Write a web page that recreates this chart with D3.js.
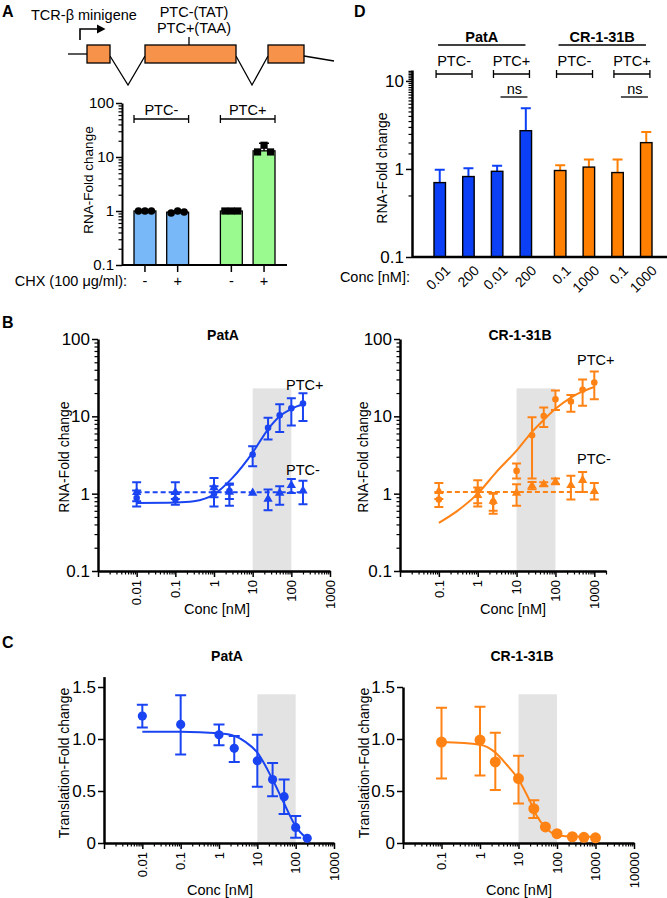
<!DOCTYPE html>
<html>
<head>
<meta charset="utf-8">
<script src="https://cdn.jsdelivr.net/npm/d3@7"></script>
<style>
  body { margin: 0; background: #fff; }
  svg { font-family: "Liberation Sans", Arial, Helvetica, sans-serif; }
</style>
</head>
<body>
<svg id="fig" width="667" height="898"></svg>
<script>
// ---------- Panel A: minigene bar chart ----------
const aGroup = ['PTC-', 'PTC-', 'PTC+', 'PTC+'];
const aChx = ['-', '+', '-', '+'];
const aMean = [1.0, 0.95, 1.0, 13.0];
const aReps = [[1.0, 1.0, 1.0], [0.92, 1.0, 0.96], [1.0, 1.0, 1.0], [12.4, 16.5, 12.4]];
const aErrTop = [null, null, null, 18];
const aYTicks = [0.1, 1, 10, 100];

// ---------- Panel D: single-dose bars ----------
const dCompounds = ['PatA', 'CR-1-31B'];
const dPtc = ['PTC-', 'PTC-', 'PTC+', 'PTC+'];
const dConcPatA = ['0.01', '200', '0.01', '200'];
const dConcCR = ['0.1', '1000', '0.1', '1000'];
const dMeanPatA = [0.70, 0.82, 0.94, 2.72];
const dErrPatA = [0.98, 1.02, 1.09, 4.9];
const dMeanCR = [0.96, 1.05, 0.91, 1.99];
const dErrCR = [1.10, 1.28, 1.28, 2.63];
const dYTicks = [0.1, 1, 10];

// ---------- Panel B: RNA dose response ----------
const bPatAConc = [0.01, 0.1, 1, 2.5, 10, 25, 50, 100, 200];
const bPatAPlus = [0.88, 0.84, 1.0, 1.08, 3.2, 7.1, 10.3, 12.7, 14.6];
const bPatAPlusLo = [0.68, 0.72, 0.68, 0.85, 2.26, 5.0, 6.25, 7.6, 8.7];
const bPatAPlusHi = [1.1, 1.0, 1.25, 1.3, 4.1, 9.6, 14.3, 17.1, 19.9];
const bPatAMinus = [1.04, 1.04, 1.2, 1.05, 1.02, 0.85, 1.02, 1.28, 1.09];
const bPatAMinusLo = [0.8, 0.85, 0.9, 0.7, null, 0.61, 0.72, 1.02, 0.73];
const bPatAMinusHi = [1.4, 1.4, 1.6, 1.35, null, 1.13, 1.25, 1.55, 1.47];
const bPatAFitX = [0.01, 0.1, 0.3, 1, 3, 10, 25, 50, 100, 200];
const bPatAFitY = [0.76, 0.77, 0.8, 0.98, 1.6, 3.4, 6.8, 10, 12.5, 14.3];
const bPatAFlat = 1.04;

const bCRConc = [0.1, 1, 2.5, 10, 25, 50, 100, 250, 500, 1000];
const bCRPlus = [0.84, 1.1, 0.78, 1.97, 5.7, 10.1, 16.6, 15.5, 22, 27.4];
const bCRPlusLo = [0.67, 0.75, 0.6, 1.57, 1.57, 7.3, 12.1, 11.5, 13.7, 16.6];
const bCRPlusHi = [1.05, 1.49, 1.0, 2.45, 9.7, 13, 21.5, 18.9, 30, 38];
const bCRMinus = [1.07, 0.95, 0.8, 1.02, 1.26, 1.32, 1.42, 1.28, 1.49, 1.07];
const bCRMinusLo = [0.85, 0.68, 0.55, 0.7, 1.14, 1.25, 1.32, 0.84, 1.05, 0.84];
const bCRMinusHi = [1.37, 1.2, 1.02, 1.32, 1.42, 1.4, 1.57, 1.7, 1.91, 1.37];
const bCRFitX = [0.1, 0.3, 1, 3, 10, 25, 50, 100, 250, 500, 1000];
const bCRFitY = [0.42, 0.6, 1.0, 1.9, 3.6, 6.3, 9, 12.5, 17.5, 21, 24];
const bCRFlat = 1.05;
const bYTicks = [0.1, 1, 10, 100];

// ---------- Panel C: translation dose response ----------
const cPatAConc = [0.01, 0.1, 1, 2.5, 10, 25, 50, 100, 200];
const cPatAMean = [1.22, 1.14, 1.04, 0.91, 0.79, 0.61, 0.445, 0.15, 0.045];
const cPatALo = [1.11, 0.85, 0.94, 0.78, 0.54, 0.45, 0.28, 0.05, null];
const cPatAHi = [1.33, 1.42, 1.14, 1.03, 1.04, 0.77, 0.61, 0.26, null];
const cPatAFitX = [0.01, 0.1, 1, 2.5, 5, 10, 25, 50, 100, 200];
const cPatAFitY = [1.07, 1.07, 1.055, 1.03, 0.97, 0.87, 0.61, 0.38, 0.16, 0.04];

const cCRConc = [0.1, 1, 2.5, 10, 25, 50, 100, 250, 500, 1000];
const cCRMean = [0.97, 0.99, 0.78, 0.62, 0.33, 0.155, 0.09, 0.06, 0.055, 0.05];
const cCRLo = [0.62, 0.65, 0.51, 0.38, 0.24, null, null, null, null, null];
const cCRHi = [1.30, 1.31, 1.06, 0.84, 0.41, null, null, null, null, null];
const cCRFitX = [0.1, 1, 2.5, 5, 10, 20, 30, 50, 100, 300, 1000];
const cCRFitY = [0.97, 0.945, 0.87, 0.75, 0.61, 0.4, 0.26, 0.15, 0.075, 0.062, 0.06];
const cYTicks = [0, 0.5, 1.0, 1.5];

const BLUE = '#1a44f2', ORANGE = '#ff8214';
const svg = d3.select('#fig');

function label(g, x, y, s, size, anchor, bold) {
  return g.append('text').attr('x', x).attr('y', y)
    .attr('font-size', size).attr('text-anchor', anchor || 'start')
    .attr('font-weight', bold ? 'bold' : null).text(s);
}

function vLabel(g, cx, cy, s, size) {
  g.append('text').attr('transform', `translate(${cx},${cy}) rotate(-90)`)
    .attr('text-anchor', 'middle').attr('dy', '0.35em')
    .attr('font-size', size).text(s);
}

const isMajor = (v, majors) => majors.some(m => Math.abs(m - v) <= Math.abs(m) * 1e-6);

function fmtNum(d) { return String(d); }

// log y axis with minor ticks
function yAxisLog(g, y, x0, majors, size, lw) {
  const minors = y.ticks(40).filter(v => !isMajor(v, majors));
  g.append('g').attr('transform', `translate(${x0},0)`)
    .call(d3.axisLeft(y).tickValues(minors).tickSize(3.5).tickSizeOuter(0).tickFormat(''))
    .call(s => { s.select('.domain').remove(); s.selectAll('line').attr('stroke-width', 1.2); });
  const ax = g.append('g').attr('transform', `translate(${x0},0)`)
    .call(d3.axisLeft(y).tickValues(majors).tickSize(6).tickSizeOuter(0).tickPadding(2).tickFormat(fmtNum));
  ax.select('.domain').attr('stroke-width', lw);
  ax.selectAll('.tick line').attr('stroke-width', 1.5);
  ax.selectAll('.tick text').attr('font-size', size).attr('fill', '#000').attr('font-family', null);
  ax.attr('font-family', null);
}

// log x axis, rotated labels
function xAxisLog(g, x, y0, labels, lw) {
  const [lo, hi] = x.domain();
  const decades = x.ticks(40).filter(v => Math.abs(Math.log10(v) - Math.round(Math.log10(v))) < 1e-6);
  const minors = x.ticks(40).filter(v => !isMajor(v, decades));
  g.append('g').attr('transform', `translate(0,${y0})`)
    .call(d3.axisBottom(x).tickValues(minors).tickSize(3.5).tickSizeOuter(0).tickFormat(''))
    .call(s => { s.select('.domain').remove(); s.selectAll('line').attr('stroke-width', 1.2); });
  const ax = g.append('g').attr('transform', `translate(0,${y0})`)
    .call(d3.axisBottom(x).tickValues(decades).tickSize(6).tickSizeOuter(0).tickFormat(''));
  ax.select('.domain').attr('stroke-width', lw);
  ax.selectAll('.tick line').attr('stroke-width', 1.5);
  g.selectAll(null).data(labels).join('text')
    .attr('transform', d => `translate(${x(d)},${y0 + 9}) rotate(-90)`)
    .attr('text-anchor', 'end').attr('dy', '0.36em')
    .attr('font-size', 13).text(fmtNum);
}

function errorBars(g, x, y, xs, lo, hi, color, cap) {
  const pts = xs.map((d, i) => ({ x: d, lo: lo[i], hi: hi[i] })).filter(d => d.lo != null);
  g.selectAll(null).data(pts).join('path')
    .attr('d', d => `M${x(d.x)},${y(d.lo)}V${y(d.hi)}M${x(d.x) - cap},${y(d.lo)}h${2 * cap}M${x(d.x) - cap},${y(d.hi)}h${2 * cap}`)
    .attr('stroke', color).attr('stroke-width', 2).attr('fill', 'none');
}

// ================= Panel A =================
(function panelA() {
  const g = svg.append('g');
  label(g, 2, 17, 'A', 16, 'start', true);

  // minigene schematic
  const sk = g.append('g').attr('stroke', '#000').attr('stroke-width', 1.3).attr('fill', 'none');
  sk.append('path').attr('d', 'M68,54H87');
  sk.append('path').attr('d', 'M110,56L128,85L145,56');
  sk.append('path').attr('d', 'M236,56L252,85L268,56');
  sk.append('path').attr('d', 'M304,56L334,61');
  sk.append('path').attr('d', 'M189,37V45');
  [[87, 110], [145, 236], [268, 304]].forEach(([a, b]) => {
    sk.append('rect').attr('x', a).attr('y', 45).attr('width', b - a).attr('height', 18)
      .attr('fill', '#f7924a');
  });
  sk.append('path').attr('d', 'M80,40V29H98').attr('stroke-width', 1.6);
  g.append('path').attr('d', 'M97,24.5L105.5,29L97,33.5Z').attr('fill', '#000');
  label(g, 31, 20, 'TCR-β minigene', 14.5);
  label(g, 194, 17, 'PTC-(TAT)', 14.5, 'middle');
  label(g, 194, 33, 'PTC+(TAA)', 14.5, 'middle');

  const y = d3.scaleLog().domain([0.1, 100]).range([265, 103]);
  const x0 = d3.scaleBand().domain(['PTC-', 'PTC+']).range([134, 275]).paddingInner(0.368);
  const x1 = d3.scaleBand().domain(['-', '+']).range([0, x0.bandwidth()]).paddingInner(0.33);
  const fills = { 'PTC-': '#78b8f8', 'PTC+': '#9afa90' };
  const bars = aMean.map((v, i) => ({ v, g: aGroup[i], c: aChx[i], reps: aReps[i], err: aErrTop[i] }));
  const cx = d => x0(d.g) + x1(d.c) + x1.bandwidth() / 2;

  g.selectAll(null).data(bars).join('rect')
    .attr('x', d => x0(d.g) + x1(d.c)).attr('width', x1.bandwidth())
    .attr('y', d => y(d.v)).attr('height', d => y(0.1) - y(d.v))
    .attr('fill', d => fills[d.g]).attr('stroke', '#000').attr('stroke-width', 1.3);

  g.selectAll(null).data(bars.filter(d => d.err)).join('path')
    .attr('d', d => `M${cx(d)},${y(d.v)}V${y(d.err)}M${cx(d) - 5},${y(d.err)}h10`)
    .attr('stroke', '#000').attr('stroke-width', 1.5);

  bars.forEach(d => {
    d.reps.forEach((r, k) => {
      const px = cx(d) + (k - 1) * 6.5;
      if (d.g === 'PTC-') {
        g.append('circle').attr('cx', px).attr('cy', y(r)).attr('r', 3.8).attr('fill', '#000');
      } else {
        g.append('rect').attr('x', px - 3.6).attr('y', y(r) - 3.6).attr('width', 7.2).attr('height', 7.2).attr('fill', '#000');
      }
    });
  });

  yAxisLog(g, y, 122, aYTicks, 15, 2);
  // x axis line with ticks under each bar
  g.append('path').attr('d', `M122,${y(0.1)}H287`).attr('stroke', '#000').attr('stroke-width', 2);
  g.selectAll(null).data(bars).join('path')
    .attr('d', d => `M${cx(d)},${y(0.1)}v7`).attr('stroke', '#000').attr('stroke-width', 1.5);
  g.selectAll(null).data(bars).join('text')
    .attr('x', cx).attr('y', 286).attr('text-anchor', 'middle').attr('font-size', 14.5).text(d => d.c);
  label(g, 127, 286, 'CHX (100 μg/ml):', 14.5, 'end');

  // group brackets
  x0.domain().forEach(k => {
    const a = x0(k), b = x0(k) + x0.bandwidth();
    g.append('path').attr('d', `M${a},119H${b}M${a},115V123M${b},115V123`)
      .attr('stroke', '#000').attr('stroke-width', 1.3);
    label(g, (a + b) / 2, 115, k, 14.5, 'middle');
  });
  vLabel(g, 88, 180, 'RNA-Fold change', 13.5);
})();

// ================= Panel D =================
(function panelD() {
  const g = svg.append('g');
  label(g, 354, 17, 'D', 16, 'start', true);
  const y = d3.scaleLog().domain([0.1, 13.3]).range([257, 70]);
  const x0 = d3.scaleBand().domain(dCompounds).range([434, 652]).paddingInner(0.19);
  const x1 = d3.scaleBand().domain(d3.range(4)).range([0, x0.bandwidth()]).paddingInner(0.6);
  const sets = [
    { name: 'PatA', mean: dMeanPatA, err: dErrPatA, conc: dConcPatA, color: '#0b40f7' },
    { name: 'CR-1-31B', mean: dMeanCR, err: dErrCR, conc: dConcCR, color: '#ff7f00' }
  ];
  sets.forEach(s => {
    const bars = s.mean.map((v, i) => ({ v, i, err: s.err[i], conc: s.conc[i] }));
    const cx = d => x0(s.name) + x1(d.i) + x1.bandwidth() / 2;
    g.selectAll(null).data(bars).join('path')
      .attr('d', d => `M${cx(d)},${y(d.v)}V${y(d.err)}M${cx(d) - 5},${y(d.err)}h10`)
      .attr('stroke', s.color).attr('stroke-width', 2);
    g.selectAll(null).data(bars).join('rect')
      .attr('x', d => x0(s.name) + x1(d.i)).attr('width', x1.bandwidth())
      .attr('y', d => y(d.v)).attr('height', d => y(0.1) - y(d.v))
      .attr('fill', s.color).attr('stroke', '#000').attr('stroke-width', 1.4);
    g.selectAll(null).data(bars).join('text')
      .attr('transform', d => `translate(${cx(d) + 8},${268}) rotate(-45)`)
      .attr('text-anchor', 'end').attr('dy', '0.35em').attr('font-size', 14).text(d => d.conc);

    // PTC brackets
    const pairs = [[0, 1], [2, 3]];
    const spans = pairs.map(([p, q]) => {
      const m = (cx(bars[p]) + cx(bars[q])) / 2;
      return [m - 18, m + 18, dPtc[p]];
    });
    spans.forEach(([a, b, t]) => {
      g.append('path').attr('d', `M${a},74H${b}M${a},70V78M${b},70V78`)
        .attr('stroke', '#000').attr('stroke-width', 1.3);
      label(g, (a + b) / 2, 66, t, 14.5, 'middle');
    });
    const plus = spans[1], mid = (plus[0] + plus[1]) / 2;
    g.append('path').attr('d', `M${mid - 11},97H${mid + 16}`).attr('stroke', '#000').attr('stroke-width', 1.3);
    label(g, mid + 3, 94, 'ns', 14.5, 'middle');
    const a = spans[0][0] + 2, b = spans[1][1] - 4;
    g.append('path').attr('d', `M${a},45H${b}`).attr('stroke', '#000').attr('stroke-width', 1.3);
    label(g, (a + b) / 2, 42, s.name, 14.5, 'middle', true);
  });
  yAxisLog(g, y, 412, dYTicks, 17, 2.5);
  g.append('path').attr('d', `M412,${y(0.1)}H667`).attr('stroke', '#000').attr('stroke-width', 2.5);
  label(g, 410, 282, 'Conc [nM]:', 14.5, 'end');
  vLabel(g, 382, 168, 'RNA-Fold change', 14);
})();

// ================= Panel B =================
function panelB(o) {
  const g = svg.append('g');
  const x = d3.scaleLog().domain(o.xDomain).range(o.xRange);
  const y = d3.scaleLog().domain([0.1, 100]).range([571, 339]);
  g.append('rect').attr('x', x(10)).attr('width', x(100) - x(10))
    .attr('y', y(23)).attr('height', y(0.1) - y(23)).attr('fill', '#e3e3e3');

  yAxisLog(g, y, o.xRange[0], bYTicks, 17, 2.5);
  xAxisLog(g, x, 571, o.xLabels, 2.5);

  // PTC- flat fit (dashed)
  g.append('path').attr('d', `M${x(o.conc[0])},${y(o.flat)}H${x(o.conc[o.conc.length - 1])}`)
    .attr('stroke', o.color).attr('stroke-width', 2).attr('stroke-dasharray', '5,3').attr('fill', 'none');
  // PTC+ fit
  const line = d3.line().x(d => x(d[0])).y(d => y(d[1])).curve(d3.curveMonotoneX);
  g.append('path').attr('d', line(o.fitX.map((v, i) => [v, o.fitY[i]])))
    .attr('stroke', o.color).attr('stroke-width', 2).attr('fill', 'none');

  errorBars(g, x, y, o.conc, o.minusLo, o.minusHi, o.color, 4.5);
  errorBars(g, x, y, o.conc, o.plusLo, o.plusHi, o.color, 4.5);

  const tri = d3.symbol(d3.symbolTriangle, 38);
  g.selectAll(null).data(o.conc.map((c, i) => [c, o.minus[i]])).join('path')
    .attr('transform', d => `translate(${x(d[0])},${y(d[1])})`).attr('d', tri).attr('fill', o.color);
  g.selectAll(null).data(o.conc.map((c, i) => [c, o.plus[i]])).join('circle')
    .attr('cx', d => x(d[0])).attr('cy', d => y(d[1])).attr('r', 3.3).attr('fill', o.color);

  label(g, o.titleX, 340, o.title, 14, 'middle', true);
  label(g, o.plusLab[0], o.plusLab[1], 'PTC+', 14.5, 'start');
  label(g, o.minusLab[0], o.minusLab[1], 'PTC-', 14.5, 'start');
  label(g, o.xTitleX, 614, 'Conc [nM]', 14.5, 'middle');
  vLabel(g, o.yTitleX, 457, 'RNA-Fold change', 14);
}

label(svg, 2, 328, 'B', 16, 'start', true);
panelB({
  xDomain: [0.001, 1000], xRange: [98, 330], xLabels: [0.01, 0.1, 1, 10, 100, 1000],
  conc: bPatAConc, plus: bPatAPlus, plusLo: bPatAPlusLo, plusHi: bPatAPlusHi,
  minus: bPatAMinus, minusLo: bPatAMinusLo, minusHi: bPatAMinusHi,
  fitX: bPatAFitX, fitY: bPatAFitY, flat: bPatAFlat, color: BLUE,
  title: 'PatA', titleX: 223, plusLab: [286, 390], minusLab: [286, 475], xTitleX: 217, yTitleX: 64
});
panelB({
  xDomain: [0.01, 2000], xRange: [400, 606], xLabels: [0.1, 1, 10, 100, 1000],
  conc: bCRConc, plus: bCRPlus, plusLo: bCRPlusLo, plusHi: bCRPlusHi,
  minus: bCRMinus, minusLo: bCRMinusLo, minusHi: bCRMinusHi,
  fitX: bCRFitX, fitY: bCRFitY, flat: bCRFlat, color: ORANGE,
  title: 'CR-1-31B', titleX: 520, plusLab: [577, 365], minusLab: [577, 464], xTitleX: 513, yTitleX: 363
});

// ================= Panel C =================
function panelC(o) {
  const g = svg.append('g');
  const x = d3.scaleLog().domain(o.xDomain).range(o.xRange);
  const y = d3.scaleLinear().domain([0, o.yMax]).range([843, o.yTop]);
  g.append('rect').attr('x', x(10)).attr('width', x(100) - x(10))
    .attr('y', y(1.43)).attr('height', y(0) - y(1.43)).attr('fill', '#e3e3e3');

  const ax = g.append('g').attr('transform', `translate(${o.xRange[0]},0)`)
    .call(d3.axisLeft(y).tickValues(cYTicks).tickSize(6).tickSizeOuter(0).tickPadding(2)
      .tickFormat(d => d === 0 ? '0' : d3.format('.1f')(d)));
  ax.attr('font-family', null);
  ax.select('.domain').attr('stroke-width', 2.5);
  ax.selectAll('.tick line').attr('stroke-width', 1.5);
  ax.selectAll('.tick text').attr('font-size', 17).attr('fill', '#000');
  xAxisLog(g, x, 843, o.xLabels, 2.5);

  const line = d3.line().x(d => x(d[0])).y(d => y(d[1])).curve(d3.curveMonotoneX);
  g.append('path').attr('d', line(o.fitX.map((v, i) => [v, o.fitY[i]])))
    .attr('stroke', o.color).attr('stroke-width', 2).attr('fill', 'none');
  errorBars(g, x, y, o.conc, o.lo, o.hi, o.color, 5.5);
  g.selectAll(null).data(o.conc.map((c, i) => [c, o.mean[i]])).join('circle')
    .attr('cx', d => x(d[0])).attr('cy', d => y(d[1])).attr('r', o.r).attr('fill', o.color);

  label(g, o.titleX, 661, o.title, 14, 'middle', true);
  label(g, o.xTitleX, 895, 'Conc [nM]', 14.5, 'middle');
  vLabel(g, o.yTitleX, 763, 'Translation-Fold change', 14);
}

label(svg, 2, 648, 'C', 16, 'start', true);
panelC({
  xDomain: [0.001, 1000], xRange: [104, 334], xLabels: [0.01, 0.1, 1, 10, 100, 1000],
  yMax: 1.6, yTop: 676.6, conc: cPatAConc, mean: cPatAMean, lo: cPatALo, hi: cPatAHi,
  fitX: cPatAFitX, fitY: cPatAFitY, color: BLUE, r: 4.6,
  title: 'PatA', titleX: 227, xTitleX: 220, yTitleX: 64
});
panelC({
  xDomain: [0.01, 10000], xRange: [403, 634], xLabels: [0.1, 1, 10, 100, 1000, 10000],
  yMax: 1.5, yTop: 687, conc: cCRConc, mean: cCRMean, lo: cCRLo, hi: cCRHi,
  fitX: cCRFitX, fitY: cCRFitY, color: ORANGE, r: 5.5,
  title: 'CR-1-31B', titleX: 522, xTitleX: 519, yTitleX: 364
});
</script>
</body>
</html>
